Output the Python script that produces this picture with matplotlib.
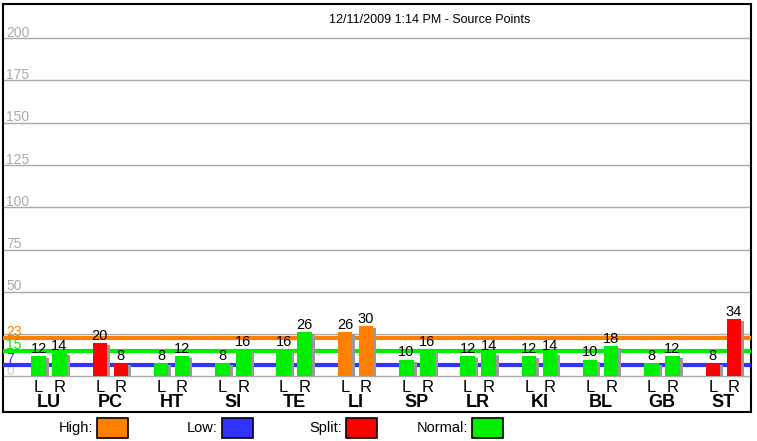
import matplotlib
matplotlib.use('Agg')
import matplotlib.pyplot as plt
from matplotlib.patches import Rectangle

plt.rcParams['font.family'] = ['Liberation Sans', 'DejaVu Sans']

# team data
teams = ['LU', 'PC', 'HT', 'SI', 'TE', 'LI', 'SP', 'LR', 'KI', 'BL', 'GB', 'ST']
left_vals = [12, 20, 8, 8, 16, 26, 10, 12, 12, 10, 8, 8]
right_vals = [14, 8, 12, 16, 26, 30, 16, 14, 14, 18, 12, 34]
left_kind = ['Normal', 'Split', 'Normal', 'Normal', 'Normal', 'High', 'Normal', 'Normal', 'Normal', 'Normal', 'Normal', 'Split']
right_kind = ['Normal', 'Split', 'Normal', 'Normal', 'Normal', 'High', 'Normal', 'Normal', 'Normal', 'Normal', 'Normal', 'Split']

high_level = 23
normal_level = 15
low_level = 7
grid_ticks = [0, 25, 50, 75, 100, 125, 150, 175, 200]
# 25 is hidden under the 23 label in the original
grid_labels = ['0', '', '50', '75', '100', '125', '150', '175', '200']

colors = {'High': '#ff8000', 'Low': '#3333ff', 'Split': '#ff0000', 'Normal': '#00ee00'}
legend_names = ['High', 'Low', 'Split', 'Normal']

W, H = 757, 441
fig = plt.figure(figsize=(W / 100, H / 100), dpi=100)

# main box in pixel terms
x0, x1, y0, y1 = 3, 751, 4, 412
ax = fig.add_axes([x0 / W, 1 - y1 / H, (x1 - x0) / W, (y1 - y0) / H])

step = 61.3
first = 49
px_per_unit = 1.69
zero_px = 376.5
ax.set_xlim((x0 - first) / step, (x1 - first) / step)
ax.set_ylim(-(y1 - zero_px) / px_per_unit, 200 + (38 - y0) / px_per_unit)
ax.set_xticks([])
ax.set_yticks([])
for s in ax.spines.values():
    s.set_linewidth(1.5)
    s.set_color('black')

xl = ax.get_xlim()
# grid lines and labels
for t, lab in zip(grid_ticks, grid_labels):
    ax.axhline(t, color='#aaaaaa', lw=1, zorder=1)
    ax.text(xl[0] + 0.05, t + 0.8, lab, color='#cccccc' if t == 0 else '#aaaaaa',
            fontsize=10, ha='left', va='baseline', zorder=2)

# level lines
for lvl, key in [(high_level, 'High'), (normal_level, 'Normal'), (low_level, 'Low')]:
    ax.axhline(lvl, color=colors[key], lw=3, zorder=3)
    ax.text(xl[0] + 0.05, lvl + 1.2, str(lvl), color=colors[key], fontsize=10,
            ha='left', va='baseline', zorder=4)

bw = 14.5 / step
off = 10.5 / step
sx = 3 / step
sy = 2 / px_per_unit
for i, team in enumerate(teams):
    for sign, val, kind, lab in [(-1, left_vals[i], left_kind[i], 'L'),
                                 (1, right_vals[i], right_kind[i], 'R')]:
        xc = i + sign * off
        # shadow
        ax.add_patch(Rectangle((xc - bw / 2 + sx, 0), bw, val - sy,
                               color='#999999', lw=0, zorder=5))
        ax.add_patch(Rectangle((xc - bw / 2, 0), bw, val,
                               color=colors[kind], lw=0, zorder=6))
        ax.text(xc, val + 1.8, str(val), ha='center', va='baseline', fontsize=10.5, zorder=7)
        ax.text(xc, -1.8, lab, ha='center', va='top', fontsize=12)
    ax.text(i, -10.5, team, ha='center', va='top', fontsize=13, fontweight='bold')

ax.text(0.571, 0.975, '12/11/2009 1:14 PM - Source Points', transform=ax.transAxes,
        ha='center', va='top', fontsize=9)

# legend strip below the box
lax = fig.add_axes([0, 0, 1, (H - y1) / H])
lax.set_xlim(0, W)
lax.set_ylim(H, y1)
lax.axis('off')
box_left = [97, 222, 346, 472]
for name, bx in zip(legend_names, box_left):
    lax.add_patch(Rectangle((bx, 418), 31, 20, facecolor=colors[name],
                            edgecolor='black', lw=1.2))
    lax.text(bx - 4, 428, name + ':', ha='right', va='center', fontsize=10.5)

fig.savefig('out.png', dpi=100)
